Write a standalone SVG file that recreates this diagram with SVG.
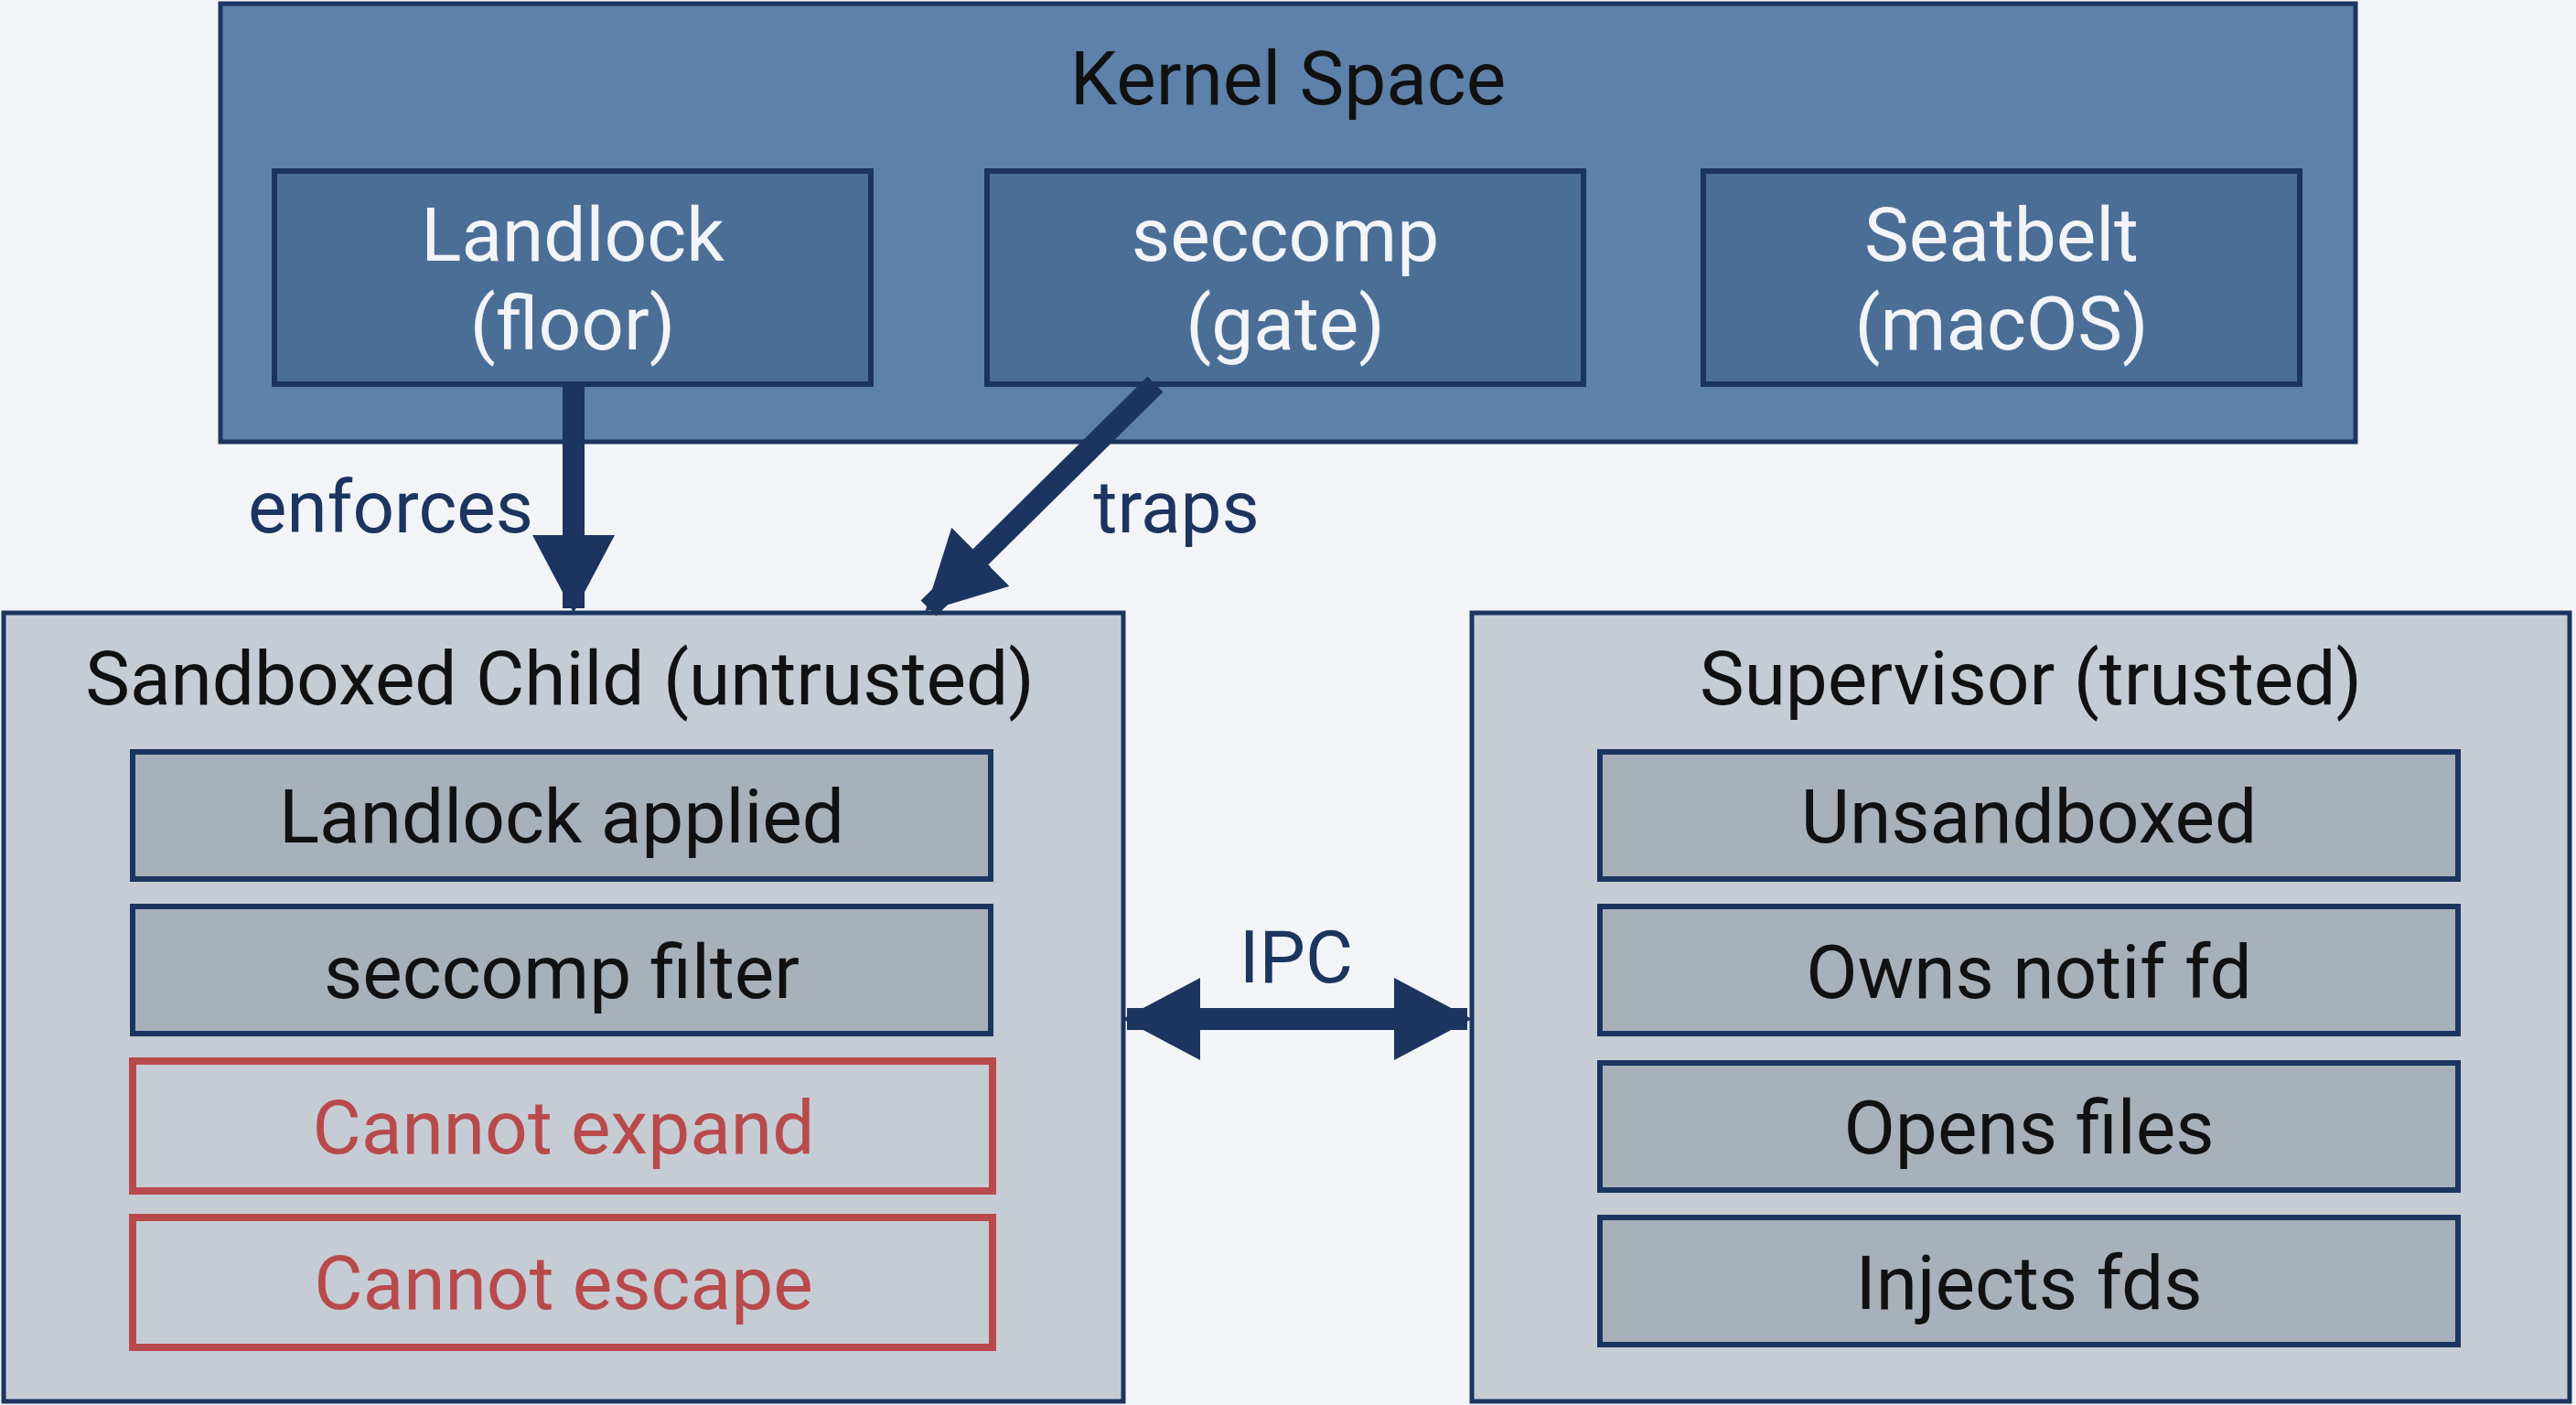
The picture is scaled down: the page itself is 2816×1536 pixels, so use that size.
<svg xmlns="http://www.w3.org/2000/svg" width="2816" height="1536" viewBox="0 0 2816 1536">
<defs>
<style>
text{font-family:Roboto,"Liberation Sans",sans-serif;text-anchor:middle;dominant-baseline:central}
.outer{fill:#5d81ab;stroke:#1b3560;stroke-width:5}
.kbox{fill:#4b6e97;stroke:#1b3560;stroke-width:6}
.ktxt{fill:#f2f4f7;font-size:82px}
.panel{fill:#c6ccd4;stroke:#1b3560;stroke-width:5}
.row{fill:#a8b0ba;stroke:#1b3560;stroke-width:6}
.bad{fill:#c6ccd4;stroke:#b84a4c;stroke-width:8}
.rtxt{fill:#111;font-size:82px}
.btxt{fill:#b84a4c;font-size:82px}
.lbl{fill:#1b3560;font-size:80px}
.conn{stroke:#1b3560;stroke-width:24;fill:none}
</style>
<marker id="ah" markerUnits="userSpaceOnUse" markerWidth="90" markerHeight="90" refX="80" refY="45" orient="auto"><path d="M0,0 L85,45 L0,90 Z" fill="#1b3560"/></marker>
<marker id="ahs" markerUnits="userSpaceOnUse" markerWidth="90" markerHeight="90" refX="5" refY="45" orient="auto"><path d="M85,0 L0,45 L85,90 Z" fill="#1b3560"/></marker>
</defs>
<rect width="2816" height="1536" fill="#f3f4f7"/>
<g id="kernel">
<rect class="outer" x="241" y="4" width="2334" height="479"/>
<text x="1408" y="86" style="font-size:82px;fill:#111">Kernel Space</text>
</g>
<g id="landlock"><rect class="kbox" x="300" y="187" width="652" height="233"/><text class="ktxt" x="626" y="257">Landlock</text><text class="ktxt" x="626" y="354">(floor)</text></g>
<g id="seccomp"><rect class="kbox" x="1079" y="187" width="652" height="233"/><text class="ktxt" x="1405" y="257">seccomp</text><text class="ktxt" x="1405" y="354">(gate)</text></g>
<g id="seatbelt"><rect class="kbox" x="1862" y="187" width="652" height="233"/><text class="ktxt" x="2188" y="257">Seatbelt</text><text class="ktxt" x="2188" y="354">(macOS)</text></g>
<g id="child">
<rect class="panel" x="4" y="670" width="1224" height="862"/>
<text x="612" y="742" style="font-size:82px;fill:#111">Sandboxed Child (untrusted)</text>
<rect class="row" x="145" y="822" width="938" height="139"/><text class="rtxt" x="614" y="893">Landlock applied</text>
<rect class="row" x="145" y="991" width="938" height="139"/><text class="rtxt" x="614" y="1063">seccomp filter</text>
<rect class="bad" x="145" y="1160" width="940" height="142"/><text class="btxt" x="616" y="1233">Cannot expand</text>
<rect class="bad" x="145" y="1331" width="940" height="142"/><text class="btxt" x="616" y="1403">Cannot escape</text>
</g>
<g id="supervisor">
<rect class="panel" x="1609" y="670" width="1200" height="862"/>
<text x="2220" y="742" style="font-size:82px;fill:#111">Supervisor (trusted)</text>
<rect class="row" x="1749" y="822" width="938" height="139"/><text class="rtxt" x="2218" y="893">Unsandboxed</text>
<rect class="row" x="1749" y="991" width="938" height="139"/><text class="rtxt" x="2218" y="1063">Owns notif fd</text>
<rect class="row" x="1749" y="1162" width="938" height="139"/><text class="rtxt" x="2218" y="1233">Opens files</text>
<rect class="row" x="1749" y="1331" width="938" height="139"/><text class="rtxt" x="2218" y="1403">Injects fds</text>
</g>
<g id="connectors">
<path class="conn" d="M627,420 L627,665" marker-end="url(#ah)"/>
<path class="conn" d="M1263,420 L1015,665" marker-end="url(#ah)"/>
<path class="conn" d="M1232,1114 L1604,1114" marker-start="url(#ahs)" marker-end="url(#ah)"/>
<text class="lbl" x="427" y="555">enforces</text>
<text class="lbl" x="1286" y="555">traps</text>
<text class="lbl" x="1417" y="1047">IPC</text>
</g>
</svg>
